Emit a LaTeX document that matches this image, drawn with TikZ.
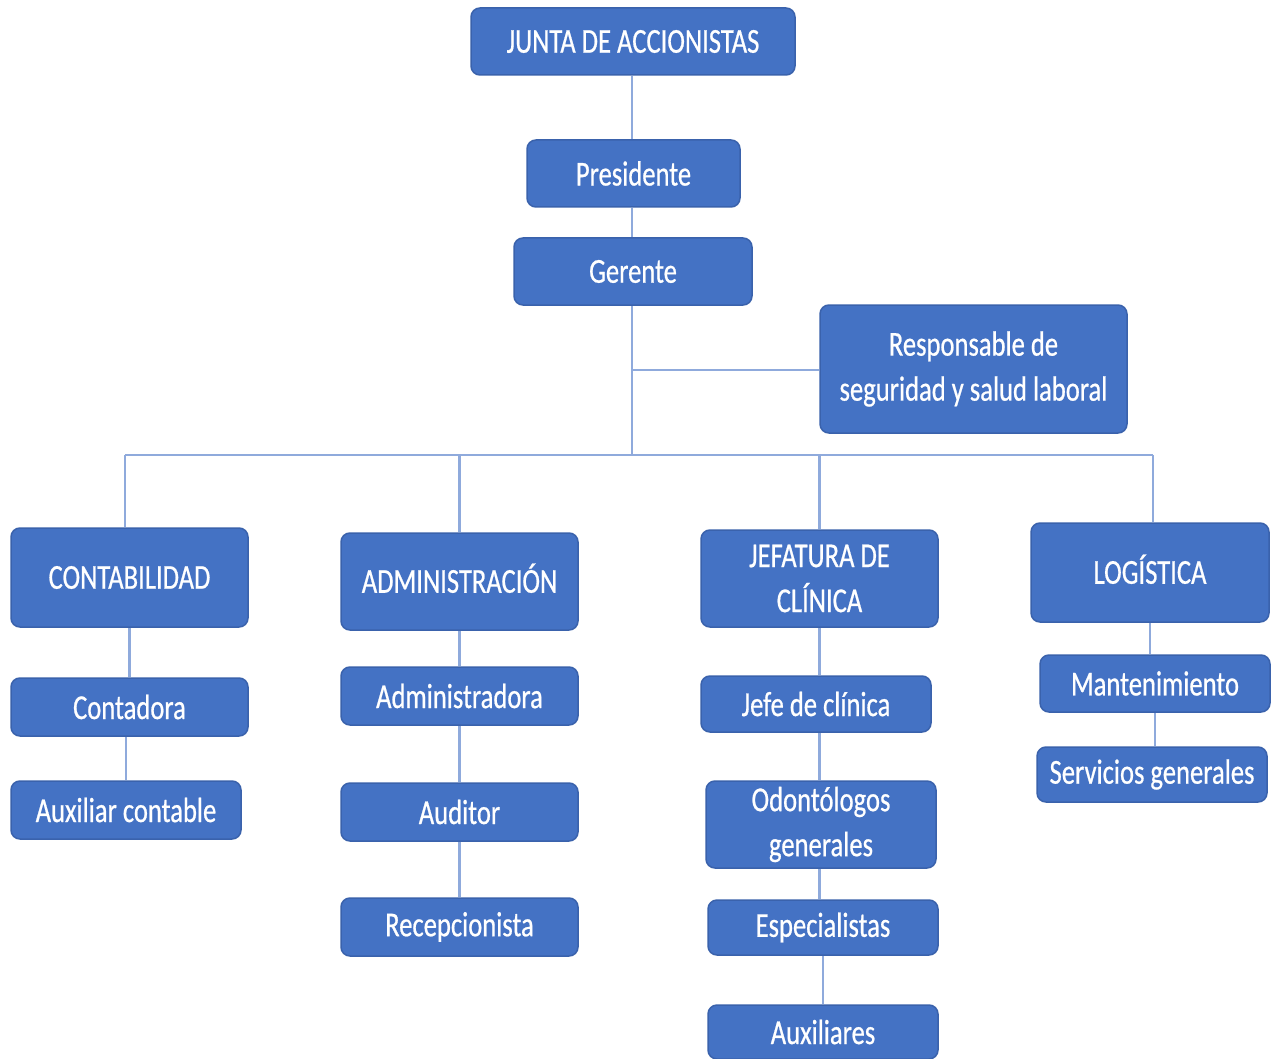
\documentclass[tikz,border=0pt]{standalone}
\usepackage{fontspec}
\setmainfont{Carlito}[FakeStretch=0.76,FakeBold=0.6]
\definecolor{boxfill}{HTML}{4472C4}
\definecolor{boxedge}{HTML}{3A62AC}
\definecolor{linkc}{HTML}{8FAADC}
\begin{document}
\begin{tikzpicture}[x=1pt,y=-1pt,
  box/.style={draw=boxedge,line width=1.5pt,fill=boxfill,rounded corners=9pt,text=white,
    align=center,inner sep=0pt,font=\fontsize{35}{45}\selectfont},
  capsonly/.style={text height=22.5pt,text depth=0pt},
  link/.style={draw=linkc,line width=2.5pt}]
\useasboundingbox[fill=white] (0,0) rectangle (1279,1059);
\node[box,minimum width=324pt,minimum height=67pt] (junta) at (633,41.5) {JUNTA DE ACCIONISTAS};
\node[box,minimum width=213pt,minimum height=67pt] (pres) at (633.5,173.5) {Presidente};
\node[box,minimum width=238pt,minimum height=67pt] (ger) at (633,271.5) {Gerente};
\node[box,minimum width=307pt,minimum height=128pt] (resp) at (973.5,369) {Responsable de\\seguridad y salud laboral};
\node[box,minimum width=237pt,minimum height=99pt] (cont) at (129.5,577.5) {CONTABILIDAD};
\node[box,capsonly,minimum width=237pt,minimum height=97pt] (adm) at (459.5,581.5) {ADMINISTRACIÓN};
\node[box,minimum width=237pt,minimum height=97pt] (jef) at (819.5,578.5) {JEFATURA DE\\CLÍNICA};
\node[box,capsonly,minimum width=238pt,minimum height=99pt] (log) at (1150,572.5) {LOGÍSTICA};
\node[box,minimum width=237pt,minimum height=58pt] (contra) at (129.5,707) {Contadora};
\node[box,minimum width=230pt,minimum height=58pt] (auxc) at (126,810) {Auxiliar contable};
\node[box,minimum width=237pt,minimum height=58pt] (admra) at (459.5,696) {Administradora};
\node[box,minimum width=237pt,minimum height=58pt] (aud) at (459.5,812) {Auditor};
\node[box,minimum width=237pt,minimum height=58pt] (recep) at (459.5,927) {Recepcionista};
\node[box,minimum width=230pt,minimum height=56pt] (jefec) at (816,704) {Jefe de clínica};
\node[box,minimum width=230pt,minimum height=87pt] (odon) at (821,824.5) {Odontólogos\\generales};
\node[box,minimum width=230pt,minimum height=55pt] (esp) at (823,927.5) {Especialistas};
\node[box,minimum width=230pt,minimum height=54pt] (auxs) at (823,1032) {Auxiliares};
\node[box,minimum width=230pt,minimum height=57pt] (mant) at (1155,683.5) {Mantenimiento};
\node[box,minimum width=230pt,minimum height=55pt] (serv) at (1152,774.5) {Servicios generales};
% connectors
\coordinate (busc) at (632,455);
\coordinate (busl) at (125,455);
\coordinate (busr) at (1153,455);
\coordinate (rbr) at (632,370);
\draw[link] (junta.south -| busc) -- (pres.north -| busc);
\draw[link] (pres.south -| busc) -- (ger.north -| busc);
\draw[link] (ger.south -| busc) -- (busc);
\draw[link] (rbr) -- (resp.west |- rbr);
\draw[link] (busl) -- (busr);
\draw[link] (busl) -- (cont.north -| busl);
\draw[link] (busc -| adm.north) -- (adm.north);
\draw[link] (busc -| jef.north) -- (jef.north);
\draw[link] (busr) -- (log.north -| busr);
\draw[link] (cont.south) -- (cont.south |- contra.north);
\draw[link] (contra.south -| auxc.north) -- (auxc.north);
\draw[link] (adm.south) -- (admra.north);
\draw[link] (admra.south) -- (aud.north);
\draw[link] (aud.south) -- (recep.north);
\draw[link] (jef.south) -- (jef.south |- jefec.north);
\draw[link] (jefec.south -| jef.south) -- (jef.south |- odon.north);
\draw[link] (odon.south -| jef.south) -- (jef.south |- esp.north);
\draw[link] (esp.south) -- (auxs.north);
\draw[link] (log.south) -- (log.south |- mant.north);
\draw[link] (mant.south) -- (mant.south |- serv.north);
\end{tikzpicture}
\end{document}
